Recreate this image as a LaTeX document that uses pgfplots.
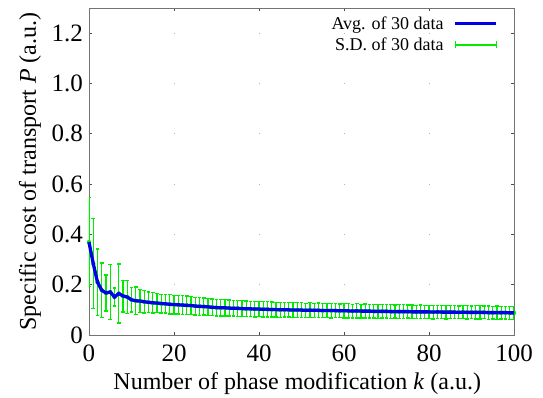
\documentclass[border=0pt]{standalone}
\usepackage{fontspec}
\setmainfont{Liberation Serif}
\usepackage{pgfplots}
\usepackage{pgfplotstable}
\pgfplotsset{compat=1.18}
\pgfplotstableread{
k mean sd
0 0.369 0.177
1 0.284 0.178
2 0.210 0.132
3 0.178 0.108
4 0.167 0.072
5 0.171 0.108
6 0.151 0.036
7 0.165 0.117
8 0.155 0.063
9 0.151 0.066
10 0.140 0.048
11 0.136 0.055
12 0.135 0.046
13 0.132 0.044
14 0.130 0.041
15 0.128 0.040
16 0.127 0.038
17 0.125 0.037
18 0.124 0.036
19 0.122 0.038
20 0.121 0.037
21 0.120 0.036
22 0.119 0.038
23 0.118 0.037
24 0.117 0.036
25 0.115 0.035
26 0.114 0.036
27 0.113 0.034
28 0.112 0.034
29 0.110 0.033
30 0.109 0.033
31 0.108 0.032
32 0.108 0.033
33 0.107 0.032
34 0.106 0.031
35 0.106 0.032
36 0.105 0.031
37 0.104 0.031
38 0.104 0.030
39 0.103 0.031
40 0.103 0.030
41 0.102 0.031
42 0.102 0.030
43 0.101 0.030
44 0.101 0.029
45 0.100 0.030
46 0.100 0.029
47 0.100 0.029
48 0.099 0.030
49 0.099 0.029
50 0.099 0.029
51 0.098 0.028
52 0.099 0.029
53 0.098 0.028
54 0.098 0.029
55 0.097 0.028
56 0.097 0.028
57 0.097 0.029
58 0.097 0.028
59 0.096 0.027
60 0.096 0.028
61 0.096 0.028
62 0.095 0.027
63 0.096 0.028
64 0.095 0.027
65 0.095 0.028
66 0.095 0.027
67 0.094 0.027
68 0.094 0.028
69 0.094 0.027
70 0.094 0.027
71 0.093 0.027
72 0.093 0.026
73 0.093 0.027
74 0.093 0.027
75 0.093 0.026
76 0.092 0.027
77 0.092 0.026
78 0.092 0.027
79 0.092 0.026
80 0.092 0.026
81 0.091 0.027
82 0.092 0.026
83 0.091 0.026
84 0.091 0.027
85 0.091 0.026
86 0.091 0.026
87 0.090 0.025
88 0.091 0.026
89 0.090 0.026
90 0.090 0.025
91 0.090 0.026
92 0.090 0.026
93 0.090 0.025
94 0.089 0.026
95 0.089 0.025
96 0.089 0.026
97 0.089 0.025
98 0.089 0.025
99 0.088 0.026
100 0.088 0.025
}\datatable
\definecolor{avgblue}{RGB}{0,0,235}
\definecolor{sdgreen}{RGB}{0,235,0}
\begin{document}
\begin{tikzpicture}
\begin{axis}[
  set layers=standard,
  at={(0pt,0pt)}, anchor=south west,
  scale only axis,
  width=425pt, height=327pt,
  xmin=0, xmax=100, ymin=0, ymax=1.3,
  xtick={0,20,...,100},
  ytick={0,0.2,0.4,0.6,0.8,1.0,1.2},
  yticklabels={0,0.2,0.4,0.6,0.8,1.0,1.2},
  /pgf/number format/assume math mode=true,
  tick align=inside,
  major tick length=3pt,
  tick style={black!70, line width=0.6pt},
  axis line style={black!55, line width=0.8pt},
  xmajorgrids, ymajorgrids,
  major x grid style={draw=gray!60, line width=0.6pt, dash pattern=on 0.8pt off 49.51pt, dash phase=0.4pt},
  major y grid style={draw=gray!60, line width=0.6pt, dash pattern=on 0.8pt off 84.2pt, dash phase=0.4pt},
  ticklabel style={font=\fontsize{25}{29}\selectfont},
  xticklabel style={anchor=base, yshift=-27pt},
  yticklabel style={anchor=east, inner sep=0pt, xshift=-6pt},
  xlabel={Number of phase modification \textit{k} (a.u.)},
  ylabel={Specific cost of transport \textit{P} (a.u.)},
  label style={font=\fontsize{24}{28}\selectfont},
  xlabel style={at={(axis description cs:0.49,-0.168)}, anchor=base},
  ylabel style={at={(axis description cs:-0.139,0.5)}, anchor=center},
]
\addplot[color=sdgreen, only marks, mark=none,
  error bars/.cd, y dir=both, y explicit,
  error bar style={color=sdgreen, line width=1.3pt},
  error mark options={rotate=90, mark size=1.9pt, color=sdgreen, line width=1.3pt}]
  table[x=k, y=mean, y error=sd]{\datatable};
\addplot[avgblue, line width=3.3pt, mark=none, on layer=axis foreground] table[x=k, y=mean]{\datatable};
\end{axis}
\begin{axis}[
  at={(0pt,0pt)}, anchor=south west,
  scale only axis,
  width=425pt, height=327pt,
  xmin=0, xmax=100, ymin=0, ymax=1.3,
  hide axis,
  legend style={draw=none, fill=none, at={(0.962,0.98)}, anchor=north east,
    font=\fontsize{18}{20}\selectfont, row sep=3pt, column sep=8pt, inner sep=0pt},
  legend cell align=right,
  legend plot pos=right,
]
\addlegendimage{legend image code/.code={\draw[avgblue, line width=3pt] (0pt,0pt) -- (41pt,0pt);}}
\addlegendentry{Avg. of 30 data}
\addlegendimage{legend image code/.code={\draw[sdgreen, line width=1.3pt] (0pt,0pt) -- (41pt,0pt); \draw[sdgreen, line width=1.3pt] (0pt,-3.5pt) -- (0pt,3.5pt); \draw[sdgreen, line width=1.3pt] (41pt,-3.5pt) -- (41pt,3.5pt);}}
\addlegendentry{S.D. of 30 data}
\end{axis}
\pgfresetboundingbox
\useasboundingbox (-89pt,-63pt) rectangle (454pt,335pt);
\end{tikzpicture}
\end{document}
